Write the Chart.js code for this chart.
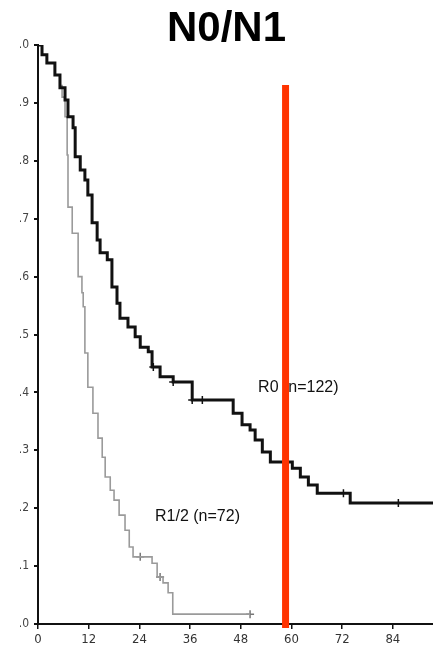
<!DOCTYPE html>
<html>
<head>
<meta charset="utf-8">
<script src="https://cdn.jsdelivr.net/npm/chart.js@4.4.1/dist/chart.umd.min.js"></script>
<style>
  html, body { margin: 0; padding: 0; background: #fff; }
  #wrap { width: 433px; height: 657px; }
</style>
</head>
<body>
<div id="wrap"><canvas id="km"></canvas></div>
<script>
// --- Data ---
const X_TICKS = [0, 12, 24, 36, 48, 60, 72, 84];
const Y_TICK_LABELS = ['0.0', '.1', '.2', '.3', '.4', '.5', '.6', '.7', '.8', '.9', '1.0'];

// R0 (n=122): time of each drop (months) and survival after it
const R0_TIMES = [0, 0.95, 2.1, 4.0, 5.2, 6.4, 7.1, 8.3, 8.8, 10.0, 11.1, 11.8, 12.8, 14.0, 14.7, 16.4,
  17.5, 18.7, 19.4, 21.3, 23.0, 24.2, 26.1, 27.0, 28.9, 32.0, 36.5, 46.2, 48.3, 50.2, 51.4, 53.1,
  55.0, 60.2, 62.1, 64.0, 66.1, 73.9, 93.5];
const R0_SURV = [1.0, 0.983, 0.969, 0.948, 0.926, 0.905, 0.876, 0.857, 0.807, 0.784, 0.767, 0.741,
  0.693, 0.663, 0.641, 0.629, 0.582, 0.554, 0.528, 0.513, 0.496, 0.478, 0.470, 0.444, 0.427, 0.418,
  0.387, 0.364, 0.344, 0.335, 0.318, 0.297, 0.280, 0.269, 0.254, 0.240, 0.226, 0.209, 0.209];
const R0_CENSOR_T = [27.3, 32.0, 36.5, 38.9, 72.3, 85.3];
const R0_CENSOR_S = [0.444, 0.418, 0.387, 0.387, 0.226, 0.209];

// R1/2 (n=72)
const R12_TIMES = [0, 0.95, 2.1, 4.0, 5.2, 5.7, 6.4, 6.9, 7.1, 8.1, 9.5, 10.4, 10.7, 11.1, 11.8, 13.0,
  14.2, 15.2, 15.9, 17.1, 18.0, 19.2, 20.6, 21.6, 22.5, 27.0, 28.2, 29.6, 30.8, 31.9, 50.2];
const R12_SURV = [1.0, 0.983, 0.969, 0.948, 0.93, 0.91, 0.876, 0.81, 0.72, 0.675, 0.60, 0.572, 0.548,
  0.468, 0.409, 0.364, 0.321, 0.288, 0.254, 0.231, 0.214, 0.188, 0.162, 0.133, 0.116, 0.105, 0.081,
  0.071, 0.054, 0.017, 0.017];
const R12_CENSOR_T = [24.2, 28.9, 50.2];
const R12_CENSOR_S = [0.116, 0.081, 0.017];

// red marker line (months) and its vertical extent
const REF_LINE_X = 58.6;
const REF_LINE_Y = [-0.007, 0.931];

const LABELS = [
  { text: 'R0 (n=122)', x: 52.1, y: 0.409 },
  { text: 'R1/2 (n=72)', x: 27.7, y: 0.185 }
];

const toPoints = (xs, ys) => xs.map((x, i) => ({ x, y: ys[i] }));

// curve labels, drawn under the datasets so the red line covers them
const curveLabels = {
  id: 'curveLabels',
  beforeDatasetsDraw(chart) {
    const { ctx, scales: { x, y } } = chart;
    ctx.save();
    ctx.font = '16px "Liberation Sans", Arial, sans-serif';
    ctx.fillStyle = '#111';
    ctx.textBaseline = 'middle';
    ctx.textAlign = 'left';
    LABELS.forEach(l => ctx.fillText(l.text, x.getPixelForValue(l.x), y.getPixelForValue(l.y)));
    ctx.restore();
  }
};

new Chart(document.getElementById('km'), {
  type: 'line',
  data: {
    datasets: [
      {
        label: 'ref',
        data: REF_LINE_Y.map(v => ({ x: REF_LINE_X, y: v })),
        borderColor: '#ff3300',
        borderWidth: 7,
        borderCapStyle: 'butt',
        pointRadius: 0,
        clip: false,
        order: 0
      },
      {
        label: 'R0',
        data: toPoints(R0_TIMES, R0_SURV),
        stepped: true,
        borderColor: '#111',
        borderWidth: 3,
        pointRadius: 0,
        order: 2
      },
      {
        label: 'R0 censored',
        data: toPoints(R0_CENSOR_T, R0_CENSOR_S),
        showLine: false,
        pointStyle: 'cross',
        pointRadius: 4,
        borderColor: '#111',
        borderWidth: 1.5,
        order: 2
      },
      {
        label: 'R1/2',
        data: toPoints(R12_TIMES, R12_SURV),
        stepped: true,
        borderColor: '#9a9a9a',
        borderWidth: 1.6,
        pointRadius: 0,
        order: 3
      },
      {
        label: 'R1/2 censored',
        data: toPoints(R12_CENSOR_T, R12_CENSOR_S),
        showLine: false,
        pointStyle: 'cross',
        pointRadius: 4,
        borderColor: '#777',
        borderWidth: 1.5,
        order: 3
      }
    ]
  },
  options: {
    responsive: true,
    maintainAspectRatio: false,
    animation: false,
    layout: { autoPadding: false, padding: { left: 20, right: 0, top: 0, bottom: 0 } },
    plugins: {
      legend: { display: false },
      tooltip: { enabled: false },
      title: {
        display: true,
        text: 'N0/N1',
        color: '#000',
        font: { family: '"Liberation Sans", Arial, sans-serif', size: 42, weight: 'bold', lineHeight: 0.75 },
        padding: { top: 13.5, bottom: 0 }
      }
    },
    scales: {
      x: {
        type: 'linear',
        min: 0,
        max: 93.5,
        afterFit: s => { s.height = 33; },
        afterBuildTicks: s => { s.ticks = X_TICKS.map(v => ({ value: v })); },
        border: { color: '#111', width: 2 },
        grid: { drawOnChartArea: false, drawTicks: true, tickLength: 5, color: '#111', lineWidth: 1.5 },
        ticks: {
          color: '#333',
          padding: 3,
          font: { family: '"Liberation Sans Narrow", "DejaVu Sans Condensed", Arial, sans-serif', size: 13 }
        }
      },
      y: {
        min: 0,
        max: 1,
        afterFit: s => { s.width = 18; },
        border: { color: '#111', width: 2 },
        grid: { drawOnChartArea: false, drawTicks: true, tickLength: 4, color: '#111', lineWidth: 2 },
        ticks: {
          stepSize: 0.1,
          color: '#444',
          padding: 5,
          font: { family: '"Liberation Sans Narrow", "DejaVu Sans Condensed", Arial, sans-serif', size: 12 },
          callback: v => Y_TICK_LABELS[Math.round(v * 10)]
        }
      }
    }
  },
  plugins: [curveLabels]
});
</script>
</body>
</html>
